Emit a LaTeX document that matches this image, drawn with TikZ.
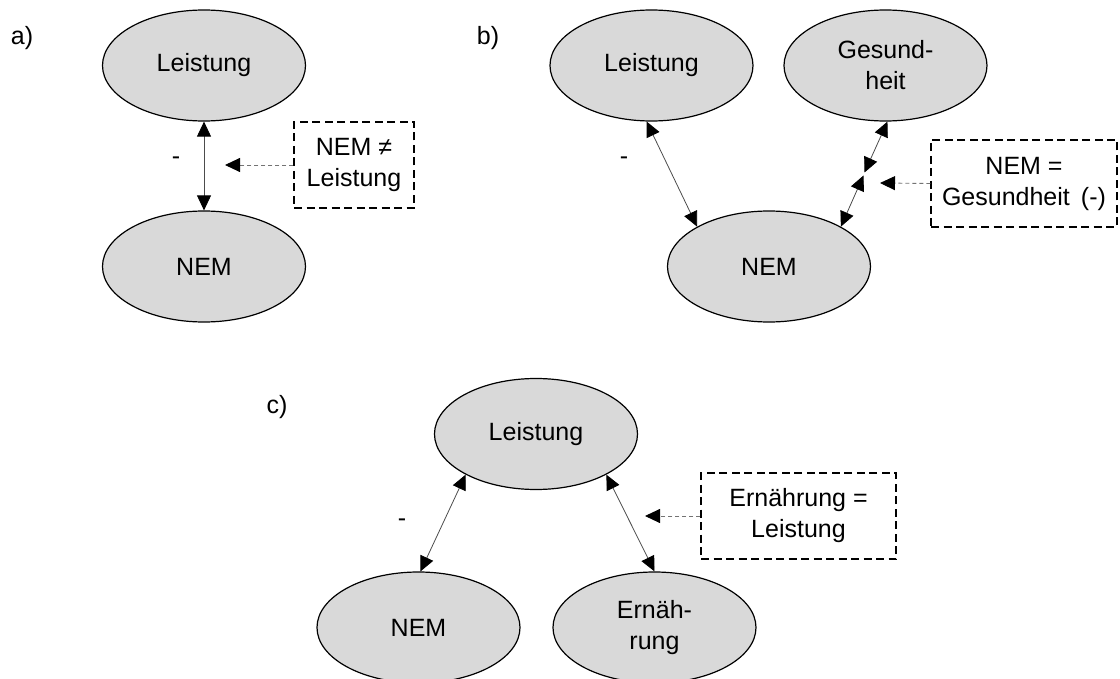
\documentclass[tikz,border=0pt]{standalone}
\usepackage{fontspec}
\setmainfont{Liberation Sans}
\usetikzlibrary{arrows.meta,shapes.geometric}
\begin{document}
\begin{tikzpicture}[x=1pt,y=-1pt,
  txt/.style={font=\fontsize{25}{31}\selectfont},
  concept/.style={ellipse,draw=black,line width=1.2pt,fill=black!15,
    minimum width=203pt,minimum height=111pt,inner sep=0pt,align=center,txt},
  note/.style={draw=black,line width=1.2pt,dash pattern=on 8pt off 4.5pt,
    inner sep=0pt,align=center,txt},
  head/.tip={Triangle[length=15pt,width=14pt,color=black]},
  link/.style={draw=black!70,line width=0.8pt,head-head},
  hint/.style={draw=black!55,line width=0.9pt,dash pattern=on 4pt off 3pt,-head}]
\useasboundingbox (0,0) rectangle (1120,679);
\clip (0,0) rectangle (1120,679);

% ---- a) ----
\node[txt] (la) at (22,38) {a)};
\node[concept] (aL) at (204,65.5) {Leistung};
\node[concept] (aN) at (204,266.5) {NEM};
\draw[link] (aL.south) -- (aN.north);
\node[txt] (am) at (176,161) {-};
\node[note,minimum width=120pt,minimum height=86pt] (aB) at (354,165) {NEM ≠\\Leistung};
\coordinate (aT) at (225,165);
\draw[hint] (aB.west) -- (aT);

% ---- b) ----
\node[txt] (lb) at (488,38) {b)};
\node[concept] (bL) at (651.5,65.5) {Leistung};
\node[concept] (bG) at (885.5,65.5) {Gesund-\\heit};
\node[concept] (bN) at (769,266.5) {NEM};
\draw[link] (bL.-95) -- (bN.151);
\coordinate (bm1) at (864.5,172.5);
\coordinate (bm2) at (863.5,175.5);
\draw[link] (bG.-88) -- (bm1);
\draw[link] (bm2) -- (bN.29);
\node[txt] (bm) at (624,161) {-};
\node[note,minimum width=186pt,minimum height=87pt] (bB) at (1024,183.5) {NEM =\\Gesundheit\, (-)};
\coordinate (bT) at (880,183);
\draw[hint] (bB.west) -- (bT);

% ---- c) ----
\node[txt] (lc) at (277,407) {c)};
\node[concept] (cL) at (536,434) {Leistung};
\node[concept] (cN) at (418.5,627.5) {NEM};
\node[concept] (cE) at (654.5,627.5) {Ernäh-\\rung};
\draw[link] (cL.210) -- (cN.88);
\draw[link] (cL.-30) -- (cE.90);
\node[txt] (cm) at (402,523) {-};
\node[note,minimum width=195pt,minimum height=86pt] (cB) at (798.5,516) {Ernährung =\\Leistung};
\coordinate (cT) at (645,516);
\draw[hint] (cB.west) -- (cT);
\end{tikzpicture}
\end{document}
